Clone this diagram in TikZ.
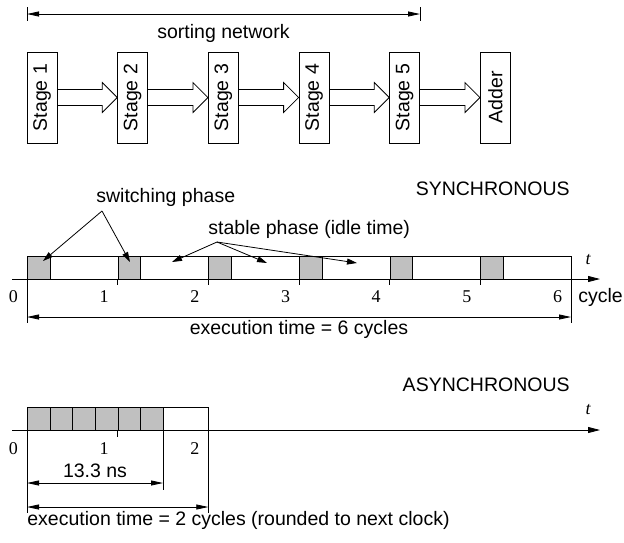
\documentclass[tikz,border=0pt]{standalone}
\usepackage{fontspec}
\setmainfont{Liberation Sans}
\newfontfamily\numfont{Liberation Serif}
\usepackage{graphicx}
\usetikzlibrary{positioning, arrows.meta, calc}
\definecolor{phaseGray}{RGB}{192,192,192}

\begin{document}
\begin{tikzpicture}[x=1pt, y=-1pt, line width=0.8pt,
	every node/.style={inner sep=0pt, font=\fontsize{19.5}{22}\selectfont},
	stage/.style={draw, minimum width=30pt, minimum height=91pt},
	hollow/.style={to path={($(\tikztostart.east)+(0,-8)$) -- ($(\tikztotarget.west)+(-15,-8)$) -- ($(\tikztotarget.west)+(-15,-15)$) -- (\tikztotarget.west) -- ($(\tikztotarget.west)+(-15,15)$) -- ($(\tikztotarget.west)+(-15,8)$) -- ($(\tikztostart.east)+(0,8)$)}},
	dim/.style={{Triangle[length=12pt,width=5pt]}-{Triangle[length=12pt,width=5pt]}},
	axis/.style={-{Triangle[length=12pt,width=6pt]}},
	pointer/.style={-{Triangle[length=10pt,width=6pt]}},
	phase/.style={draw, fill=phaseGray, minimum width=22.67pt, minimum height=23pt, anchor=north west},
	lbl/.style={anchor=base},
	num/.style={anchor=base, font=\numfont\fontsize{18}{20}\selectfont},
	tlbl/.style={anchor=base, font=\numfont\itshape\fontsize{18}{20}\selectfont}]
	\useasboundingbox (0,0) rectangle (624,542);
	
	% Sorting network stages
	\node[stage] (st1) at (42,97.5) {\rotatebox{90}{Stage 1}};
	\node[stage] (st2) at (132.67,97.5) {\rotatebox{90}{Stage 2}};
	\node[stage] (st3) at (223.33,97.5) {\rotatebox{90}{Stage 3}};
	\node[stage] (st4) at (314,97.5) {\rotatebox{90}{Stage 4}};
	\node[stage] (st5) at (404.67,97.5) {\rotatebox{90}{Stage 5}};
	\node[stage] (adder) at (495.33,97.5) {\rotatebox{90}{Adder}};
	
	\draw[hollow] (st1) to (st2);
	\draw[hollow] (st2) to (st3);
	\draw[hollow] (st3) to (st4);
	\draw[hollow] (st4) to (st5);
	\draw[hollow] (st5) to (adder);
	
	% Span of the network
	\coordinate (snL) at (27,14);
	\coordinate (snR) at (420,14);
	\draw ($(snL)+(0,-7)$) -- ($(snL)+(0,7)$);
	\draw ($(snR)+(0,-7)$) -- ($(snR)+(0,7)$);
	\draw[dim] (snL) -- (snR);
	\node[lbl] (sortlbl) at (223.5,38) {sorting network};
	
	% Synchronous timing
	\node[lbl, anchor=base east] (synclbl) at (570,195) {SYNCHRONOUS};
	\node[lbl, anchor=base west] (swlbl) at (96,202) {switching phase};
	\node[lbl, anchor=base west] (idlelbl) at (208,234) {stable phase (idle time)};
	
	\node[phase] (g1) at (27,256) {};
	\node[phase] (g2) at (117.67,256) {};
	\node[phase] (g3) at (208.33,256) {};
	\node[phase] (g4) at (299,256) {};
	\node[phase] (g5) at (389.67,256) {};
	\node[phase] (g6) at (480.33,256) {};
	\draw (27,256) rectangle (571,279);
	
	\coordinate (sAxL) at (12,279);
	\coordinate (sAxR) at (600,279);
	\draw[axis] (sAxL) -- (sAxR);
	\node[tlbl] (st) at (588,264) {t};
	
	\draw (117.67,279) -- (117.67,285);
	\draw (208.33,279) -- (208.33,285);
	\draw (299,279) -- (299,285);
	\draw (389.67,279) -- (389.67,285);
	\draw (480.33,279) -- (480.33,285);
	\draw (27,279) -- (27,323);
	\draw (571,279) -- (571,323);
	
	\node[num] (s0) at (13.5,302) {0};
	\node[num] (s1) at (104.17,302) {1};
	\node[num] (s2) at (194.83,302) {2};
	\node[num] (s3) at (285.5,302) {3};
	\node[num] (s4) at (376.17,302) {4};
	\node[num] (s5) at (466.83,302) {5};
	\node[num] (s6) at (557.5,302) {6};
	\node[lbl, anchor=base west] (cyc) at (578,302) {cycle};
	
	\coordinate (sExL) at (27,317);
	\coordinate (sExR) at (571,317);
	\draw[dim] (sExL) -- (sExR);
	\node[lbl] (sexlbl) at (299,334) {execution time = 6 cycles};
	
	% Pointers
	\coordinate (swfoot) at (102,211);
	\coordinate (swtip1) at (43,261);
	\coordinate (swtip2) at (130,262);
	\draw[pointer] (swfoot) -- (swtip1);
	\draw[pointer] (swfoot) -- (swtip2);
	
	\coordinate (idlefoot) at (217,242);
	\coordinate (idletip1) at (172,262);
	\coordinate (idletip2) at (267,263);
	\coordinate (idletip3) at (357,263);
	\draw[pointer] (idlefoot) -- (idletip1);
	\draw[pointer] (idlefoot) -- (idletip2);
	\draw[pointer] (idlefoot) -- (idletip3);
	
	% Asynchronous timing
	\node[lbl, anchor=base east] (asynclbl) at (570,391) {ASYNCHRONOUS};
	
	\node[phase] (a1) at (27,407) {};
	\node[phase] (a2) at (49.67,407) {};
	\node[phase] (a3) at (72.33,407) {};
	\node[phase] (a4) at (95,407) {};
	\node[phase] (a5) at (117.67,407) {};
	\node[phase] (a6) at (140.33,407) {};
	\draw (27,407) rectangle (208.33,430);
	
	\coordinate (aAxL) at (12,430);
	\coordinate (aAxR) at (600,430);
	\draw[axis] (aAxL) -- (aAxR);
	\node[tlbl] (at) at (588,414) {t};
	
	\draw (117.67,430) -- (117.67,437);
	\draw (163,430) -- (163,490);
	\draw (27,430) -- (27,513);
	\draw (208.33,430) -- (208.33,513);
	
	\node[num] (a0) at (13.5,454) {0};
	\node[num] (a1lbl) at (104.17,454) {1};
	\node[num] (a2lbl) at (194.83,454) {2};
	
	\coordinate (nsL) at (27,483);
	\coordinate (nsR) at (163,483);
	\draw[dim] (nsL) -- (nsR);
	\node[lbl] (nslbl) at (95,477) {13.3 ns};
	
	\coordinate (aExL) at (27,507);
	\coordinate (aExR) at (208.33,507);
	\draw[dim] (aExL) -- (aExR);
	\node[lbl, anchor=base west] (aexlbl) at (27,525) {execution time = 2 cycles (rounded to next clock)};
\end{tikzpicture}
\end{document}
